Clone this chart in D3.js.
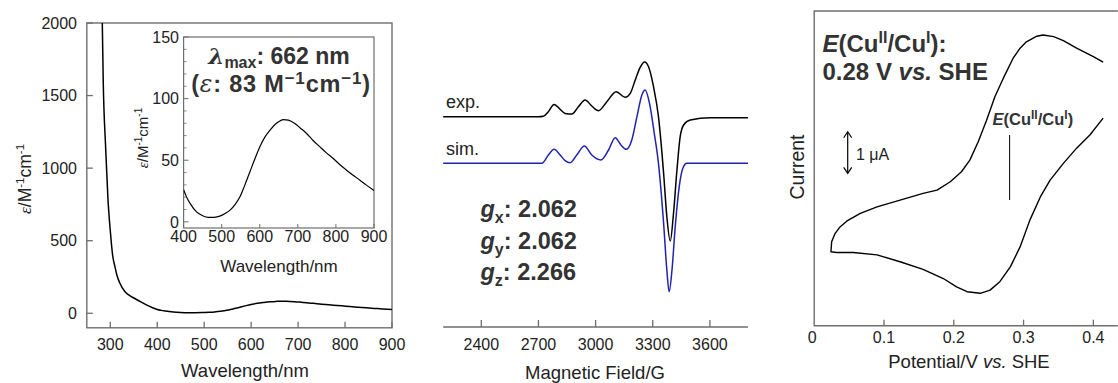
<!DOCTYPE html>
<html><head><meta charset="utf-8">
<script src="https://cdnjs.cloudflare.com/ajax/libs/d3/7.8.5/d3.min.js"></script>
<style>
body{margin:0;background:#fff}
svg{display:block}
text{font-family:"Liberation Sans",Arial,Helvetica,sans-serif;fill:#222}
</style>
</head><body>
<svg id="c" width="1118" height="383"></svg>
<script>
// ---------- UV-vis data ----------
const uvWavelength = [278,283,285,290,295,300,305,310,314,320,331,340,353,365,378,390,400,408,417,434,450,465,480,495,510,522,535,548,561,574,587,600,613,627,640,653,662,675,692,707,723,740,758,775,793,810,828,845,863,880,900];
const uvEpsilon   = [2400,2000,1600,1150,790,570,400,320,264,210,150,125,100,78,56,38,26,20,15,8.1,5,3.6,3.7,4.6,7,9.5,14,20.3,30,40.5,51,60.8,68.5,74.4,79,81.9,83,82.5,79.8,76,71.7,66,60.8,56,51.4,46.5,41.9,37.8,33.8,29.8,25.5];
const uvXTicks = [300,400,500,600,700,800,900];
const uvYTicks = [0,500,1000,1500,2000];
const insetXTicks = [400,500,600,700,800,900];
const insetYTicks = [0,50,100,150];
const insetYMinor = [10,20,30,40,60,70,80,90,110,120,130,140];

// ---------- EPR data ----------
const eprFieldExp = [2200,2700,2726,2752,2782,2814,2840,2875,2910,2945,2980,3015,3059,3108,3155,3182,3208,3234,3257,3278,3304,3330,3357,3374,3392,3409,3427,3444,3462,3497,3602,3800];
const eprExp      = [0,0,0.5,5,12.3,7.3,3.3,2.7,10,16.7,10.7,6,15,25,19.4,23.3,36.7,49.4,54.7,50,30,0,-56.6,-100,-124.3,-96.6,-53.3,-20,-8.3,-3.3,-1,-1];
const eprFieldSim = [2200,2718,2752,2782,2814,2840,2866,2901,2941,2980,3028,3068,3103,3133,3161,3190,3217,3243,3260,3283,3308,3330,3357,3374,3386,3401,3418,3439,3458,3479,3800];
const eprSim      = [0,0,8.3,14,8.3,2.7,0.6,8.3,17.3,8.3,3.3,13.3,25.6,18.3,14,23.3,46.6,68.3,73.3,60,30,0,-60,-106.7,-128.4,-106.7,-63.4,-23.4,-5,0,0];
const eprTraceNames = ["exp.","sim."];
const eprTraceOffsets = [13.3,-33.3];
const eprXTicks = [2400,2700,3000,3300,3600];
const gAxes = ["x","y","z"];
const gValues = ["2.062","2.062","2.266"];

// ---------- CV data ----------
const cvPotential = [0.414,0.400,0.376,0.357,0.343,0.328,0.319,0.304,0.295,0.285,0.271,0.259,0.247,0.235,0.223,0.211,0.195,0.176,0.156,0.123,0.090,0.066,0.056,0.047,0.037,0.030,0.025,0.024,0.032,0.056,0.090,0.123,0.156,0.185,0.204,0.219,0.238,0.252,0.266,0.281,0.295,0.309,0.324,0.338,0.357,0.376,0.395,0.414];
const cvCurrent   = [2.59,2.73,2.94,3.13,3.23,3.27,3.24,3.10,2.94,2.69,2.19,1.73,1.14,0.60,0.14,-0.15,-0.40,-0.61,-0.69,-0.86,-1.03,-1.19,-1.29,-1.38,-1.53,-1.69,-1.90,-2.15,-2.17,-2.17,-2.23,-2.40,-2.59,-2.82,-3.03,-3.15,-3.19,-3.11,-2.90,-2.53,-2.03,-1.36,-0.78,-0.36,0.06,0.44,0.77,1.19];
const cvXTicks = [0,0.1,0.2,0.3,0.4];
const cvE = 0.28;

const svg = d3.select("#c");
const FRAME = "#6e6e6e";
const sup = (s, fs, d) => `<tspan dy="-${d}" font-size="${fs}">${s}</tspan>`;

// ================= Panel 1: UV-vis =================
const x1 = d3.scaleLinear().domain([250,900]).range([86.8,392]);
const y1 = d3.scaleLinear().domain([-100,2000]).range([327.8,23]);
const p1 = svg.append("g");
p1.append("clipPath").attr("id","clip1").append("rect")
  .attr("x",x1(250)).attr("y",y1(2000)).attr("width",x1(900)-x1(250)).attr("height",y1(-100)-y1(2000));
p1.append("rect").attr("x",x1(250)).attr("y",y1(2000)).attr("width",x1(900)-x1(250)).attr("height",y1(-100)-y1(2000))
  .attr("fill","none").attr("stroke",FRAME).attr("stroke-width",1.4);
const uvPts = uvWavelength.map((w,i)=>[w,uvEpsilon[i]]);
p1.append("path").datum(uvPts).attr("clip-path","url(#clip1)")
  .attr("d",d3.line().x(d=>x1(d[0])).y(d=>y1(d[1])).curve(d3.curveMonotoneX))
  .attr("fill","none").attr("stroke","#000").attr("stroke-width",1.5);
p1.selectAll(".xt").data(uvXTicks).join("line").attr("x1",d=>x1(d)).attr("x2",d=>x1(d))
  .attr("y1",y1(-100)).attr("y2",y1(-100)-6).attr("stroke",FRAME).attr("stroke-width",1.3);
p1.selectAll(".xl").data(uvXTicks).join("text").attr("x",d=>x1(d)).attr("y",350)
  .attr("text-anchor","middle").attr("font-size",16).text(d=>d);
p1.selectAll(".yt").data(uvYTicks).join("line").attr("x1",x1(250)).attr("x2",x1(250)+6)
  .attr("y1",d=>y1(d)).attr("y2",d=>y1(d)).attr("stroke",FRAME).attr("stroke-width",1.3);
p1.selectAll(".yl").data(uvYTicks).join("text").attr("x",77).attr("y",d=>y1(d)).attr("dy","0.36em")
  .attr("text-anchor","end").attr("font-size",16).text(d=>d);
p1.append("text").attr("x",245).attr("y",377).attr("text-anchor","middle").attr("font-size",18.5).text("Wavelength/nm");
p1.append("text").attr("transform","translate(25,179) rotate(-90)").attr("dy","0.36em")
  .attr("text-anchor","middle").attr("font-size",17.5)
  .html(`<tspan font-family="Liberation Serif" font-style="italic">ε</tspan>/M${sup("-1",11.5,7)}<tspan dy="7">cm</tspan>${sup("-1",11.5,7)}`);

// inset
const xi = d3.scaleLinear().domain([400,900]).range([183.6,374]);
const yi = d3.scaleLinear().domain([-5,150]).range([228,37]);
const pi = svg.append("g");
pi.append("rect").attr("x",xi(400)).attr("y",yi(150)).attr("width",xi(900)-xi(400)).attr("height",yi(-5)-yi(150))
  .attr("fill","#fff").attr("stroke",FRAME).attr("stroke-width",1.2);
pi.append("clipPath").attr("id","clipi").append("rect")
  .attr("x",xi(400)).attr("y",yi(150)).attr("width",xi(900)-xi(400)).attr("height",yi(-5)-yi(150));
pi.append("path").datum(uvPts.filter(d=>d[0]>=400)).attr("clip-path","url(#clipi)")
  .attr("d",d3.line().x(d=>xi(d[0])).y(d=>yi(d[1])).curve(d3.curveMonotoneX))
  .attr("fill","none").attr("stroke","#000").attr("stroke-width",1.2);
pi.selectAll(".ixt").data(insetXTicks).join("line").attr("x1",d=>xi(d)).attr("x2",d=>xi(d))
  .attr("y1",yi(-5)).attr("y2",yi(-5)-4).attr("stroke",FRAME);
pi.selectAll(".ixl").data(insetXTicks).join("text").attr("x",d=>xi(d)).attr("y",242)
  .attr("text-anchor","middle").attr("font-size",16).text(d=>d);
pi.selectAll(".iyt").data(insetYTicks).join("line").attr("x1",xi(400)).attr("x2",xi(400)+5)
  .attr("y1",d=>yi(d)).attr("y2",d=>yi(d)).attr("stroke",FRAME);
pi.selectAll(".iym").data(insetYMinor).join("line").attr("x1",xi(400)).attr("x2",xi(400)+3)
  .attr("y1",d=>yi(d)).attr("y2",d=>yi(d)).attr("stroke",FRAME).attr("stroke-width",0.8);
pi.selectAll(".iyl").data(insetYTicks).join("text").attr("x",179).attr("y",d=>yi(d)).attr("dy","0.36em")
  .attr("text-anchor","end").attr("font-size",16).text(d=>d);
pi.append("text").attr("x",279).attr("y",272).attr("text-anchor","middle").attr("font-size",17).text("Wavelength/nm");
pi.append("text").attr("transform","translate(143,138) rotate(-90)").attr("dy","0.36em")
  .attr("text-anchor","middle").attr("font-size",15)
  .html(`<tspan font-family="Liberation Serif" font-style="italic">ε</tspan>/M${sup("-1",10,6)}<tspan dy="6">cm</tspan>${sup("-1",10,6)}`);
pi.append("text").attr("x",279).attr("y",64).attr("text-anchor","middle").attr("font-size",23).attr("font-weight","bold").style("fill","#333")
  .html(`<tspan font-style="italic" font-family="DejaVu Serif">λ</tspan><tspan dy="4" font-size="16">max</tspan><tspan dy="-4">: 662 nm</tspan>`);
pi.append("text").attr("x",281).attr("y",92).attr("text-anchor","middle").attr("font-size",23.5).attr("font-weight","bold")
  .attr("letter-spacing",0.8).style("fill","#333")
  .html(`(<tspan font-style="italic" font-family="DejaVu Serif" font-weight="normal">ε</tspan>: 83 M${sup("−1",17,8)}<tspan dy="8">cm</tspan>${sup("−1",17,8)}<tspan dy="8">)</tspan>`);

// ================= Panel 2: EPR =================
const x2 = d3.scaleLinear().domain([2200,3800]).range([443.2,748]);
const y2 = d3.scaleLinear().domain([-200,100]).range([330,30]);
const p2 = svg.append("g");
p2.append("line").attr("x1",x2(2200)).attr("x2",x2(3800)).attr("y1",327).attr("y2",327).attr("stroke",FRAME).attr("stroke-width",1.4);
p2.selectAll(".t").data(eprXTicks).join("line").attr("x1",d=>x2(d)).attr("x2",d=>x2(d))
  .attr("y1",327).attr("y2",320).attr("stroke",FRAME).attr("stroke-width",1.3);
p2.selectAll(".l").data(eprXTicks).join("text").attr("x",d=>x2(d)).attr("y",350)
  .attr("text-anchor","middle").attr("font-size",16).text(d=>d);
p2.append("text").attr("x",595).attr("y",379).attr("text-anchor","middle").attr("font-size",18.5).text("Magnetic Field/G");
const eprTraces = [
  {f:eprFieldExp, v:eprExp, c:"#000"},
  {f:eprFieldSim, v:eprSim, c:"#2222b0"}
];
eprTraces.forEach((t,k)=>{
  const pts = t.f.map((f,i)=>[f, t.v[i] + eprTraceOffsets[k]]);
  p2.append("path").datum(pts)
    .attr("d",d3.line().x(d=>x2(d[0])).y(d=>y2(d[1])).curve(d3.curveMonotoneX))
    .attr("fill","none").attr("stroke",t.c).attr("stroke-width",1.5);
  p2.append("text").attr("x",446).attr("y",y2(eprTraceOffsets[k])-8.5).attr("font-size",18).text(eprTraceNames[k]);
});
gAxes.forEach((a,i)=>{
  p2.append("text").attr("x",480.5).attr("y",217.3+31.4*i).attr("font-size",23.5).attr("font-weight","bold").style("fill","#333")
    .html(`<tspan font-style="italic">g</tspan><tspan dy="6" font-size="16">${a}</tspan><tspan dy="-6">: ${gValues[i]}</tspan>`);
});

// ================= Panel 3: CV =================
const x3 = d3.scaleLinear().domain([0,0.435]).range([814.2,1117.8]);
const y3 = d3.scaleLinear().domain([-4,3.87]).range([325.7,11]);
const p3 = svg.append("g");
p3.append("path").attr("d",`M${x3(0.435)},${y3(3.87)}H${x3(0)}V${y3(-4)}H${x3(0.435)}`)
  .attr("fill","none").attr("stroke",FRAME).attr("stroke-width",1.4);
p3.selectAll(".t").data(cvXTicks.filter(d=>d>0)).join("line").attr("x1",d=>x3(d)).attr("x2",d=>x3(d))
  .attr("y1",y3(-4)).attr("y2",y3(-4)-6).attr("stroke",FRAME).attr("stroke-width",1.3);
p3.selectAll(".l").data(cvXTicks).join("text").attr("x",d=>x3(d)-(d===0?2:0)).attr("y",343)
  .attr("text-anchor","middle").attr("font-size",16).text(d=>d);
p3.append("text").attr("x",969).attr("y",368).attr("text-anchor","middle").attr("font-size",18.5)
  .html(`Potential/V <tspan font-style="italic">vs.</tspan> SHE`);
p3.append("text").attr("transform","translate(797,167) rotate(-90)").attr("dy","0.36em")
  .attr("text-anchor","middle").attr("font-size",19.5).text("Current");
const cvPts = cvPotential.map((p,i)=>[p,cvCurrent[i]]);
p3.append("path").datum(cvPts).attr("d",d3.line().x(d=>x3(d[0])).y(d=>y3(d[1])))
  .attr("fill","none").attr("stroke","#000").attr("stroke-width",1.4).attr("stroke-linejoin","round");
// E1/2 marker
p3.append("line").attr("x1",x3(cvE)).attr("x2",x3(cvE)).attr("y1",135).attr("y2",200).attr("stroke","#000").attr("stroke-width",1);
p3.append("text").attr("x",992.5).attr("y",125).attr("font-size",16.5).attr("font-weight","bold").style("fill","#333")
  .html(`<tspan font-style="italic">E</tspan>(Cu${sup("II",12,6)}<tspan dy="6">/Cu</tspan>${sup("I",12,6)}<tspan dy="6">)</tspan>`);
// scale bar 1 uA
const barC = 0.33, bx = 847.7;
const bt = y3(barC+0.52), bb = y3(barC-0.52);
p3.append("line").attr("x1",bx).attr("x2",bx).attr("y1",bt).attr("y2",bb).attr("stroke","#000").attr("stroke-width",1.2);
p3.append("path").attr("d",`M${bx-4},${bt+6}L${bx},${bt}L${bx+4},${bt+6}M${bx-4},${bb-6}L${bx},${bb}L${bx+4},${bb-6}`)
  .attr("fill","none").attr("stroke","#000").attr("stroke-width",1.2);
p3.append("text").attr("x",856).attr("y",160).attr("font-size",16).text("1 μA");
// annotation
p3.append("text").attr("x",822.5).attr("y",51.5).attr("font-size",24).attr("font-weight","bold").style("fill","#333")
  .html(`<tspan font-style="italic">E</tspan>(Cu${sup("II",16,9)}<tspan dy="9">/Cu</tspan>${sup("I",16,9)}<tspan dy="9">):</tspan>`);
p3.append("text").attr("x",822.5).attr("y",80).attr("font-size",24).attr("font-weight","bold").style("fill","#333")
  .html(`0.28 V <tspan font-style="italic">vs.</tspan> SHE`);
</script>
</body></html>
